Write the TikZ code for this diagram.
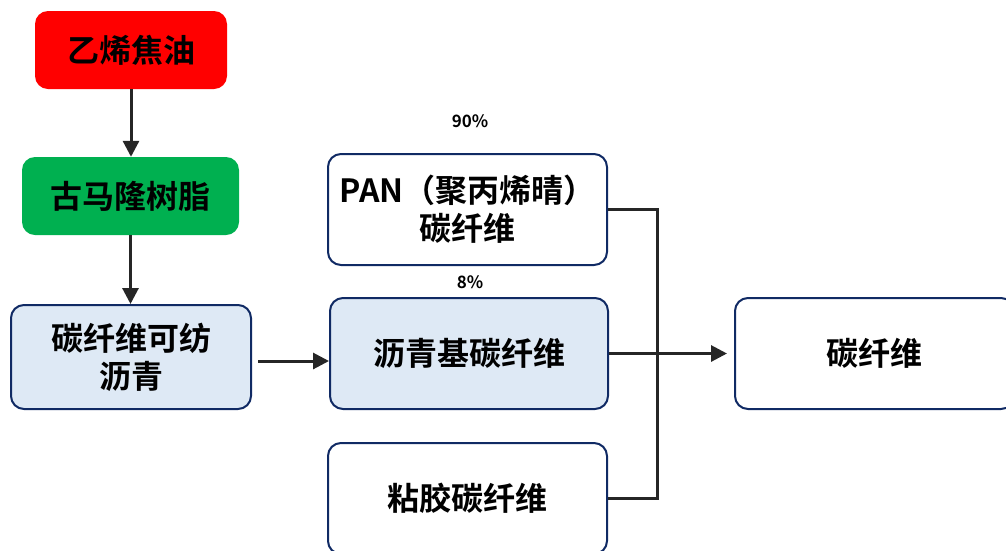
\documentclass[tikz,border=0pt]{standalone}
\usepackage{fontspec}
\newfontfamily\cjk{Noto Sans CJK SC}[BoldFont={Noto Sans CJK SC Bold}]
\usetikzlibrary{arrows.meta}
\definecolor{navy}{RGB}{16,42,100}
\definecolor{lblue}{RGB}{222,233,245}
\definecolor{gfill}{RGB}{0,176,80}
\definecolor{lcol}{RGB}{38,38,38}
\tikzset{
  box/.style={rectangle, rounded corners=13pt, align=center, inner sep=0pt,
    font=\cjk\bfseries\fontsize{32}{38}\selectfont, text=black},
  bluebox/.style={box, draw=navy, line width=2pt},
  line/.style={draw=lcol, line width=3pt},
  arr/.style={line, -{Triangle[length=16pt,width=16pt]}},
  pct/.style={font=\cjk\bfseries\fontsize{17}{20}\selectfont, text=black}
}
\begin{document}
\begin{tikzpicture}[x=1pt,y=-1pt]
\useasboundingbox (0,0) rectangle (1006,550);
\clip (0,0) rectangle (1006,550);
\node[box, fill=red, minimum width=192pt, minimum height=78pt] (red) at (131,50) {乙烯焦油};
\node[box, fill=gfill, minimum width=217pt, minimum height=78pt] (grn) at (130.5,196) {古马隆树脂};
\node[bluebox, fill=lblue, minimum width=240pt, minimum height=104pt] (lb) at (131,357) {碳纤维可纺\\沥青};
\node[bluebox, fill=white, minimum width=279pt, minimum height=111pt] (pan) at (467.5,209.5) {PAN（聚丙烯晴）\\碳纤维};
\node[bluebox, fill=lblue, minimum width=278pt, minimum height=111pt] (mid) at (469,353.5) {沥青基碳纤维};
\node[bluebox, fill=white, minimum width=279pt, minimum height=111pt] (bot) at (467.5,498.5) {粘胶碳纤维};
\node[bluebox, fill=white, minimum width=279pt, minimum height=111pt] (rgt) at (874.5,353.5) {碳纤维};
\node[pct] (p90) at (470,121) {90\%};
\node[pct] (p8) at (470,282) {8\%};
\draw[arr] (red.south) -- (red.south |- grn.north);
\draw[arr] (grn.south) -- (grn.south |- lb.north);
\draw[arr] ([xshift=6pt,yshift=-4pt]lb.east) -- ([yshift=-4pt]lb.east -| mid.west);
\draw[line] (pan.east) -- ++(49,0) |- (bot.east);
\draw[arr] (mid.east) -- ([xshift=-7pt]rgt.west);
\end{tikzpicture}
\end{document}
